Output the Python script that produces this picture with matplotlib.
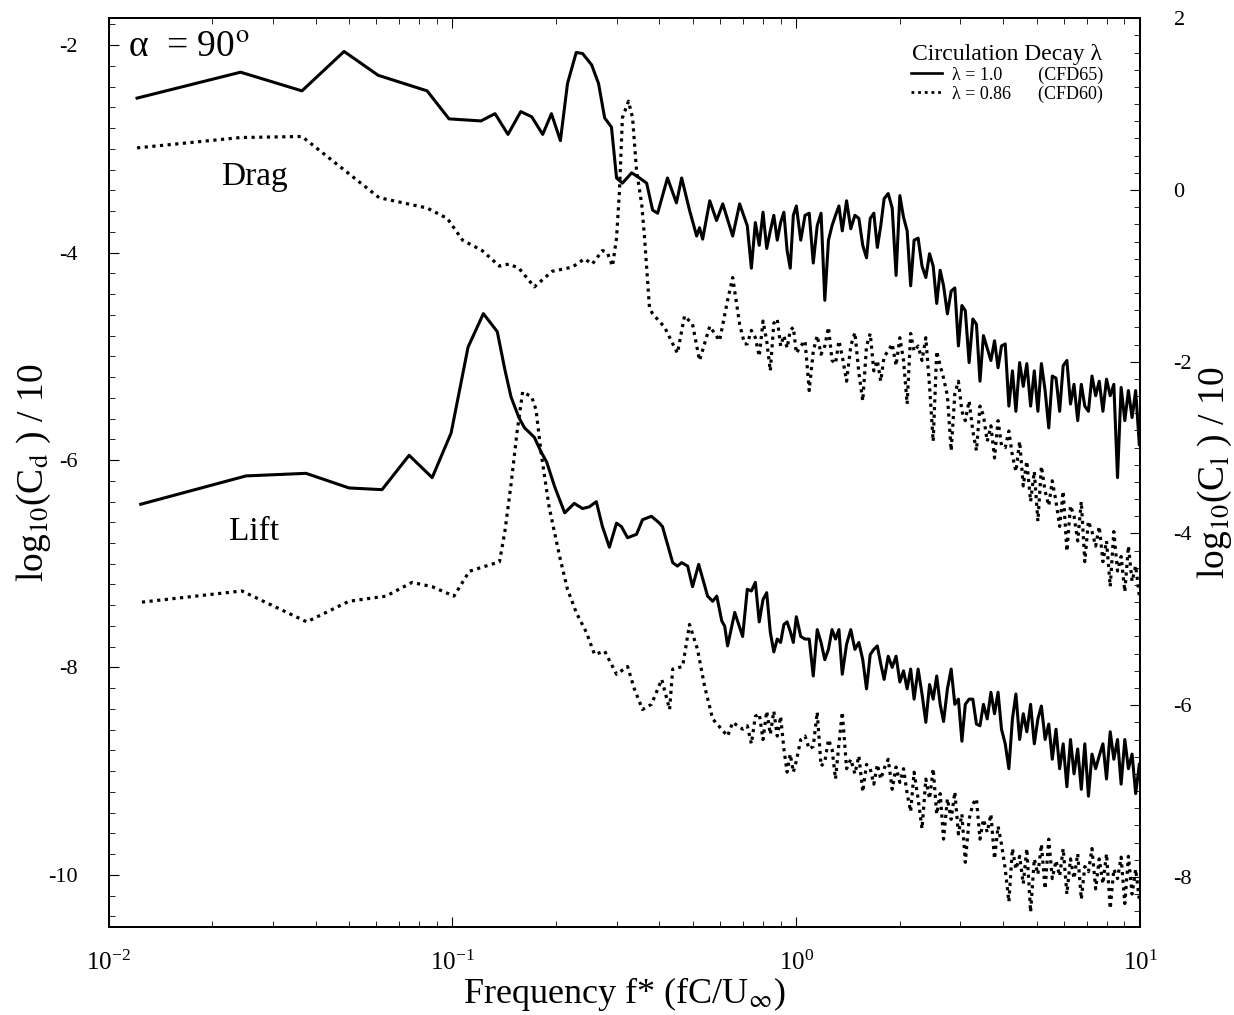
import numpy as np
import matplotlib.pyplot as plt
from matplotlib.ticker import MultipleLocator, LogLocator, NullFormatter
from matplotlib.lines import Line2D

plt.rcParams['font.family'] = ['Liberation Serif', 'DejaVu Serif']
plt.rcParams['mathtext.fontset'] = 'stix'
plt.rcParams['axes.unicode_minus'] = False

# shared frequency grid for the noisy part (f* > 0.7)
f_hi = [0.72, 0.74, 0.76, 0.78, 0.80, 0.82, 0.84, 0.86, 0.88, 0.90, 0.92, 0.94,
        0.96, 0.98, 1.00, 1.03, 1.06, 1.09, 1.12, 1.15, 1.18, 1.21, 1.24, 1.27,
        1.30, 1.33, 1.36, 1.40, 1.44, 1.48, 1.52, 1.56, 1.60, 1.64, 1.68, 1.72,
        1.76, 1.80, 1.85, 1.90, 1.95, 2.00, 2.05, 2.10, 2.15, 2.20, 2.26, 2.32,
        2.38, 2.44, 2.50, 2.56, 2.62, 2.68, 2.75, 2.82, 2.89, 2.96, 3.03, 3.10,
        3.18, 3.26, 3.34, 3.42, 3.50, 3.59, 3.68, 3.77, 3.86, 3.95, 4.05, 4.15,
        4.25, 4.35, 4.46, 4.57, 4.68, 4.80, 4.92, 5.04, 5.16, 5.29, 5.42, 5.55,
        5.69, 5.83, 5.97, 6.12, 6.27, 6.42, 6.58, 6.74, 6.90, 7.07, 7.24, 7.42,
        7.60, 7.79, 7.98, 8.18, 8.38, 8.59, 8.80, 9.02, 9.24, 9.47, 9.70, 9.94]

# Drag, lambda = 1.0 (CFD65)  -> left axis
f_cd1_lo = [0.0121, 0.0242, 0.0365, 0.0484, 0.0608, 0.0844, 0.0977, 0.121, 0.133, 0.145,
            0.158, 0.170, 0.183, 0.194, 0.206, 0.216, 0.229, 0.239, 0.254, 0.266,
            0.277, 0.290, 0.300, 0.312, 0.332, 0.350, 0.367, 0.382, 0.395, 0.422,
            0.448, 0.464, 0.489, 0.513, 0.523, 0.534, 0.560, 0.586, 0.611, 0.653, 0.684]
cd1_lo = [-2.51, -2.26, -2.44, -2.06, -2.29, -2.44, -2.71, -2.73, -2.66, -2.86,
          -2.64, -2.69, -2.86, -2.66, -2.92, -2.37, -2.07, -2.08, -2.19, -2.37,
          -2.70, -2.79, -3.28, -3.33, -3.23, -3.28, -3.33, -3.59, -3.62, -3.28,
          -3.52, -3.28, -3.59, -3.84, -3.76, -3.87, -3.50, -3.69, -3.53, -3.84, -3.53]
cd1_hi = [-3.74, -4.15, -3.71, -3.93, -3.61, -3.96, -3.79, -3.64, -3.88, -3.71, -3.61, -3.98,
          -4.15, -3.64, -3.55, -3.88, -3.64, -3.62, -4.10, -3.74, -3.62, -4.46, -3.88, -3.74,
          -3.64, -3.55, -3.79, -3.50, -3.77, -3.64, -3.67, -3.93, -4.05, -3.67, -3.62, -3.95,
          -3.74, -3.48, -3.43, -3.57, -4.22, -3.45, -3.66, -3.79, -4.32, -3.88, -3.86, -4.13,
          -4.24, -4.01, -4.13, -4.49, -4.17, -4.32, -4.59, -4.37, -4.34, -4.90, -4.51, -4.56,
          -5.06, -4.64, -4.69, -5.24, -4.80, -4.92, -5.04, -4.85, -5.11, -4.90, -4.88, -5.48,
          -5.14, -5.53, -5.06, -5.29, -5.07, -5.48, -5.14, -5.53, -5.07, -5.33, -5.69, -5.19,
          -5.21, -5.53, -5.09, -5.04, -5.46, -5.27, -5.62, -5.27, -5.48, -5.53, -5.19, -5.38,
          -5.24, -5.53, -5.22, -5.38, -5.27, -6.17, -5.30, -5.62, -5.33, -5.59, -5.33, -5.85]

# Drag, lambda = 0.86 (CFD60) -> left axis
f_cd2_lo = [0.0121, 0.0242, 0.0365, 0.0612, 0.0844, 0.0966, 0.107, 0.122, 0.137, 0.146,
            0.156, 0.173, 0.195, 0.223, 0.242, 0.255, 0.273, 0.282, 0.292, 0.300,
            0.306, 0.312, 0.325, 0.334, 0.343, 0.355, 0.362, 0.374, 0.382, 0.414,
            0.451, 0.473, 0.499, 0.523, 0.560, 0.598, 0.631, 0.653, 0.684, 0.707]
cd2_lo = [-2.99, -2.89, -2.88, -3.47, -3.57, -3.67, -3.88, -3.98, -4.13, -4.11,
          -4.15, -4.33, -4.18, -4.14, -4.06, -4.11, -3.98, -4.00, -4.13, -3.86,
          -3.40, -2.70, -2.54, -2.70, -3.21, -3.53, -3.86, -4.53, -4.59, -4.72,
          -4.97, -4.61, -4.69, -5.04, -4.71, -4.85, -4.46, -4.24, -4.69, -4.88]
cd2_hi = [-4.88, -4.75, -4.82, -5.00, -4.66, -4.85, -5.14, -4.68, -4.64, -4.90, -4.80, -4.92,
          -4.75, -4.72, -4.97, -4.90, -4.85, -5.33, -4.95, -4.80, -4.98, -4.90, -4.72, -5.04,
          -5.07, -4.85, -5.00, -5.24, -4.90, -4.77, -5.16, -5.43, -4.90, -4.78, -5.14, -5.04,
          -5.24, -5.00, -4.95, -4.88, -5.09, -4.82, -5.04, -5.46, -4.78, -4.95, -4.90, -5.04,
          -4.82, -5.29, -5.82, -4.95, -5.09, -5.21, -5.38, -5.91, -5.36, -5.24, -5.53, -5.62,
          -5.43, -5.72, -5.91, -5.48, -5.57, -5.82, -5.67, -5.98, -5.62, -5.86, -5.88, -5.72,
          -5.96, -6.11, -5.82, -6.25, -6.01, -6.40, -6.11, -6.59, -6.06, -6.30, -6.44, -6.20,
          -6.40, -6.64, -6.30, -6.88, -6.44, -6.54, -6.78, -6.40, -6.98, -6.59, -6.69, -6.83,
          -6.64, -6.98, -6.78, -7.22, -6.69, -7.07, -6.93, -7.27, -6.83, -7.17, -7.02, -7.31]

# Lift, lambda = 1.0 (CFD65) -> right axis
f_cl1_lo = [0.0124, 0.0251, 0.0375, 0.0500, 0.0624, 0.0748, 0.0873, 0.0991, 0.111, 0.123,
            0.135, 0.142, 0.148, 0.156, 0.162, 0.173, 0.181, 0.188, 0.198, 0.212,
            0.226, 0.239, 0.250, 0.262, 0.273, 0.286, 0.300, 0.310, 0.323, 0.343,
            0.357, 0.379, 0.400, 0.408, 0.437, 0.451, 0.464, 0.483, 0.499, 0.520,
            0.552, 0.571, 0.587, 0.607, 0.619, 0.631, 0.662, 0.698]
cl1_lo = [-3.66, -3.33, -3.30, -3.47, -3.49, -3.09, -3.35, -2.83, -1.83, -1.44,
          -1.65, -2.09, -2.41, -2.65, -2.77, -2.88, -3.05, -3.17, -3.45, -3.76,
          -3.65, -3.71, -3.69, -3.63, -3.92, -4.16, -3.88, -3.92, -4.05, -4.01,
          -3.84, -3.80, -3.88, -3.92, -4.34, -4.38, -4.34, -4.38, -4.62, -4.36,
          -4.73, -4.79, -4.73, -5.02, -5.08, -5.31, -4.92, -5.20]
cl1_hi = [-4.65, -4.67, -4.57, -5.03, -4.77, -4.69, -5.15, -5.38, -5.23, -5.27, -5.06, -5.03,
          -5.14, -5.27, -4.97, -5.20, -5.23, -5.23, -5.66, -5.12, -5.27, -5.47, -5.35, -5.12,
          -5.23, -5.12, -5.64, -5.29, -5.12, -5.35, -5.27, -5.47, -5.81, -5.41, -5.35, -5.31,
          -5.52, -5.70, -5.43, -5.56, -5.43, -5.73, -5.60, -5.81, -5.58, -5.93, -5.58, -5.87,
          -6.20, -5.76, -5.93, -5.66, -5.99, -6.19, -5.81, -5.58, -5.99, -5.93, -6.42, -5.99,
          -5.93, -5.93, -6.22, -6.24, -5.99, -6.16, -5.85, -6.10, -5.85, -6.28, -6.45, -6.74,
          -6.16, -5.87, -6.40, -6.10, -6.31, -5.99, -6.45, -6.16, -6.01, -6.40, -6.22, -6.63,
          -6.28, -6.74, -6.45, -6.95, -6.40, -6.80, -6.51, -6.98, -6.45, -7.06, -6.57, -6.74,
          -6.59, -6.45, -6.86, -6.31, -6.63, -6.40, -6.92, -6.40, -6.74, -6.57, -7.03, -6.69]

# Lift, lambda = 0.86 (CFD60) -> right axis
f_cl2_lo = [0.0125, 0.0244, 0.0377, 0.0500, 0.0641, 0.0763, 0.0873, 0.101, 0.112, 0.137,
            0.142, 0.148, 0.154, 0.160, 0.170, 0.175, 0.181, 0.191, 0.205, 0.216,
            0.229, 0.245, 0.259, 0.277, 0.300, 0.323, 0.338, 0.357, 0.379, 0.406,
            0.428, 0.437, 0.467, 0.489, 0.516, 0.541, 0.571, 0.631, 0.653, 0.698]
cl2_lo = [-4.80, -4.67, -5.03, -4.79, -4.73, -4.57, -4.62, -4.73, -4.44, -4.33,
          -3.98, -3.43, -2.83, -2.35, -2.41, -2.56, -3.06, -3.69, -4.27, -4.65,
          -4.92, -5.15, -5.41, -5.37, -5.64, -5.55, -5.81, -6.05, -5.99, -5.70,
          -6.05, -5.58, -5.55, -5.06, -5.35, -5.78, -6.16, -6.36, -6.20, -6.28]
cl2_hi = [-6.24, -6.45, -6.13, -6.10, -6.40, -6.07, -6.34, -6.07, -6.36, -6.13, -6.51, -6.78,
          -6.57, -6.78, -6.65, -6.40, -6.36, -6.51, -6.48, -6.08, -6.71, -6.66, -6.40, -6.51,
          -6.86, -6.45, -6.08, -6.74, -6.63, -6.80, -6.59, -7.01, -6.69, -6.74, -6.92, -6.69,
          -6.86, -6.74, -6.63, -6.98, -6.72, -6.90, -6.74, -7.03, -7.24, -6.78, -7.09, -7.44,
          -6.86, -7.09, -6.74, -7.27, -7.03, -7.56, -7.09, -7.33, -7.01, -7.50, -7.27, -7.83,
          -7.33, -7.15, -7.09, -7.56, -7.33, -7.48, -7.27, -7.79, -7.41, -7.62, -7.91, -8.29,
          -7.67, -7.91, -7.76, -8.08, -7.67, -8.41, -7.79, -7.97, -7.62, -8.14, -7.56, -8.02,
          -7.81, -7.99, -7.67, -8.20, -7.79, -8.02, -7.73, -8.26, -7.88, -7.94, -7.67, -8.14,
          -7.79, -8.08, -7.73, -8.37, -7.91, -8.02, -7.77, -8.31, -7.76, -8.20, -7.91, -8.26]

dot = (0, (1, 1.4))

fig = plt.figure(figsize=(12.34, 10.15), dpi=100)
ax = fig.add_axes([0.088, 0.087, 0.836, 0.895])
ax2 = ax.twinx()

ax.plot(f_cd1_lo + f_hi, cd1_lo + cd1_hi, color='k', lw=2.2)
ax.plot(f_cd2_lo + f_hi, cd2_lo + cd2_hi, color='k', lw=2.3, ls=dot)
ax2.plot(f_cl1_lo + f_hi, cl1_lo + cl1_hi, color='k', lw=2.2)
ax2.plot(f_cl2_lo + f_hi, cl2_lo + cl2_hi, color='k', lw=2.3, ls=dot)

ax.set_xscale('log')
ax.set_xlim(0.01, 10)
ax.set_ylim(-10.5, -1.74)
ax2.set_ylim(-8.58, 2.0)

ax.set_yticks([-10, -8, -6, -4, -2])
ax.yaxis.set_minor_locator(MultipleLocator(0.2))
ax2.set_yticks([-8, -6, -4, -2, 0, 2])
ax2.yaxis.set_minor_locator(MultipleLocator(0.2))
ax.xaxis.set_major_locator(LogLocator(base=10, numticks=10))
ax.xaxis.set_minor_locator(LogLocator(base=10, subs=np.arange(2, 10), numticks=20))
ax.xaxis.set_minor_formatter(NullFormatter())

ax.tick_params(axis='x', which='both', direction='in', top=True, labelsize=18, pad=17)
ax.tick_params(axis='x', which='major', length=7)
ax.tick_params(axis='x', which='minor', length=4)
ax.tick_params(axis='y', which='major', direction='in', length=7, labelsize=16, pad=22)
ax.tick_params(axis='y', which='minor', direction='in', length=4)
ax2.tick_params(axis='y', which='major', direction='in', length=7, labelsize=16, pad=24)
ax2.tick_params(axis='y', which='minor', direction='in', length=4)
for a in (ax, ax2):
    for s in a.spines.values():
        s.set_linewidth(1.4)

ax.set_xlabel(r'Frequency f* (fC/U$_\infty$)', fontsize=26, labelpad=0)
ax.set_ylabel(r'log$_{10}$(C$_{\rm d}$ ) / 10', fontsize=27, labelpad=-3)
ax2.set_ylabel(r'log$_{10}$(C$_{\rm l}$ ) / 10', fontsize=27, labelpad=3)

ax.text(0.019, 0.968, 'α  = 90$^{\\rm o}$', transform=ax.transAxes,
        fontsize=27, va='center', ha='left')
ax.text(0.141, 0.825, 'Drag', transform=ax.transAxes, fontsize=24, ha='center', va='center')
ax.text(0.141, 0.435, 'Lift', transform=ax.transAxes, fontsize=24, ha='center', va='center')

handles = [Line2D([], [], color='k', lw=1.9), Line2D([], [], color='k', lw=2.0, ls=dot)]
labels = ['λ = 1.0        (CFD65)', 'λ = 0.86      (CFD60)']
leg = ax.legend(handles, labels, title='Circulation Decay λ', loc='upper right',
                bbox_to_anchor=(0.975, 0.984), frameon=False, fontsize=13,
                title_fontsize=17, handlelength=1.7, handletextpad=0.6,
                labelspacing=0.1, borderaxespad=0.2)

plt.savefig('out.png', dpi=100)
